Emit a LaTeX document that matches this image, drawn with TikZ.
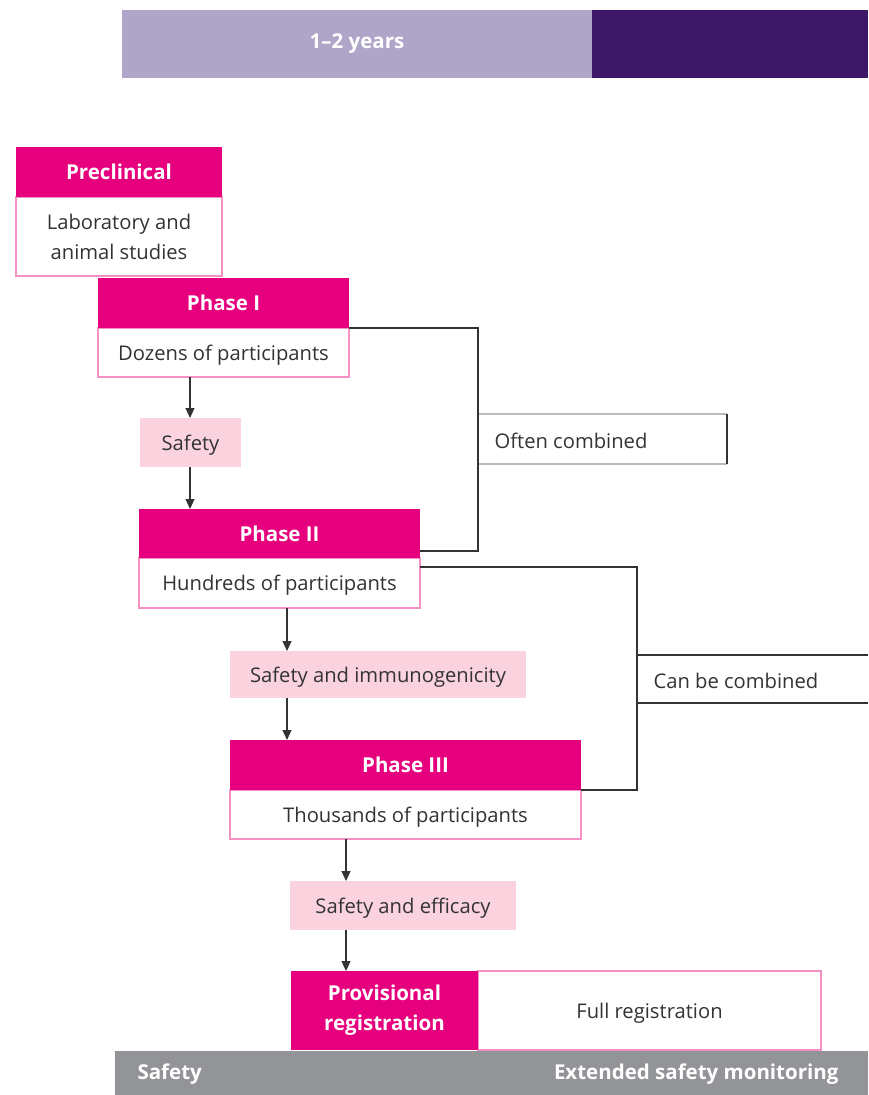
\documentclass[tikz,border=0pt]{standalone}
\usepackage{fontspec}
\setmainfont{Open Sans}
\usetikzlibrary{arrows.meta,calc}
\definecolor{mag}{HTML}{E6007E}
\definecolor{pinkline}{HTML}{F590C4}
\definecolor{lightpink}{HTML}{FAD3DF}
\definecolor{lpurple}{HTML}{AFA5C8}
\definecolor{dpurple}{HTML}{3D1868}
\definecolor{barGray}{HTML}{939498}
\definecolor{txt}{HTML}{333333}
\definecolor{brk}{HTML}{333333}
\definecolor{lgline}{HTML}{BBBBBB}
\begin{document}
\begin{tikzpicture}[x=1pt,y=-1pt,
  base/.style={inner sep=0pt,outer sep=0pt},
  hdr/.style={base,fill=mag,text=white,font=\bfseries\fontsize{20.5}{24}\selectfont},
  bodybox/.style={base,fill=white,draw=pinkline,line width=1.5pt,text=txt,font=\fontsize{20.2}{30}\selectfont,align=center},
  single/.style={text height=19pt,text depth=4pt},
  stagebox/.style={base,single,fill=lightpink,text=txt,font=\fontsize{20.2}{24}\selectfont},
  arr/.style={draw=brk,line width=1.1pt,-{Triangle[width=9pt,length=10pt]}},
  brkline/.style={draw=brk,line width=2.4pt},
  bartext/.style={text=white,font=\bfseries\fontsize{20.5}{24}\selectfont},
  labtext/.style={text=txt,font=\fontsize{20.2}{24}\selectfont}
]
\useasboundingbox (0,0) rectangle (868,1095);

% top timeline bar
\node[base,fill=lpurple,minimum width=470pt,minimum height=68pt,bartext] (yrs) at (357,44) {1–2 years};
\node[base,fill=dpurple,minimum width=276pt,minimum height=68pt] (yrs2) at (730,44) {};

% Preclinical
\node[bodybox,minimum width=206pt,minimum height=79pt] (pcb) at (119,236.5) {Laboratory and\\animal studies};
\node[hdr,minimum width=206pt,minimum height=50pt] (pch) at (119,172) {Preclinical};

% Phase I
\node[bodybox,single,minimum width=251pt,minimum height=49pt] (p1b) at (223.5,352.5) {Dozens of participants};
\node[hdr,minimum width=251pt,minimum height=50pt] (p1h) at (223.5,303) {Phase I};

% Safety
\node[stagebox,minimum width=101pt,minimum height=49pt] (s1) at (190.5,442.5) {Safety};

% Phase II
\node[bodybox,single,minimum width=281pt,minimum height=50pt] (p2b) at (279.5,583) {Hundreds of participants};
\node[hdr,minimum width=281pt,minimum height=49pt] (p2h) at (279.5,533.5) {Phase II};

% Safety and immunogenicity
\node[stagebox,minimum width=296pt,minimum height=47pt] (s2) at (378,674.5) {Safety and immunogenicity};

% Phase III
\node[bodybox,single,minimum width=351pt,minimum height=49pt] (p3b) at (405.5,814.5) {Thousands of participants};
\node[hdr,minimum width=351pt,minimum height=50pt] (p3h) at (405.5,765) {Phase III};

% Safety and efficacy
\node[stagebox,minimum width=226pt,minimum height=49pt] (s3) at (403,905.5) {Safety and efficacy};

% Registration
\node[bodybox,single,minimum width=343pt,minimum height=79pt] (full) at (649.5,1010.5) {Full registration};
\node[hdr,minimum width=187pt,minimum height=79pt,align=center,font=\bfseries\fontsize{20.5}{30}\selectfont] (prov) at (384.5,1010.5) {Provisional\\registration};

% bottom bar
\node[base,fill=barGray,minimum width=753pt,minimum height=44pt] (bot) at (491.5,1073) {};
\node[bartext,anchor=west] (botl) at (134,1074) {Safety};
\node[bartext,anchor=east] (botr) at (842,1074) {Extended safety monitoring};

% Often combined label
\node[base,minimum width=249pt,minimum height=50pt] (oc) at (602.5,439) {};
\node[labtext,anchor=west] (octxt) at (491,441) {Often combined};
\draw[lgline,line width=2pt] (oc.north west) -- (oc.north east);
\draw[lgline,line width=2pt] (oc.south west) -- (oc.south east);
\draw[brk,line width=2pt] (oc.north east) -- (oc.south east);

% Can be combined label
\node[base,minimum width=231pt,minimum height=48pt] (cb) at (752.5,679) {};
\node[labtext,anchor=west] (cbtxt) at (650,681) {Can be combined};
\draw[brk,line width=1.8pt] (cb.north west) -- (cb.north east);
\draw[brk,line width=1.8pt] (cb.south west) -- (cb.south east);

% brackets
\draw[brkline] (p1h.south east) -| (oc.west) |- ($(p2h.south east)+(0,-7)$);
\draw[brkline] ($(p2b.north east)+(0,9)$) -| (cb.west) |- (p3h.south east);

% arrows
\coordinate (a1) at (190,0);
\coordinate (a2) at (287,0);
\coordinate (a3) at (346,0);
\draw[arr] (p1b.south -| a1) -- (s1.north -| a1);
\draw[arr] (s1.south -| a1) -- (p2h.north -| a1);
\draw[arr] (p2b.south -| a2) -- (s2.north -| a2);
\draw[arr] (s2.south -| a2) -- (p3h.north -| a2);
\draw[arr] (p3b.south -| a3) -- (s3.north -| a3);
\draw[arr] (s3.south -| a3) -- (prov.north -| a3);
\end{tikzpicture}
\end{document}
